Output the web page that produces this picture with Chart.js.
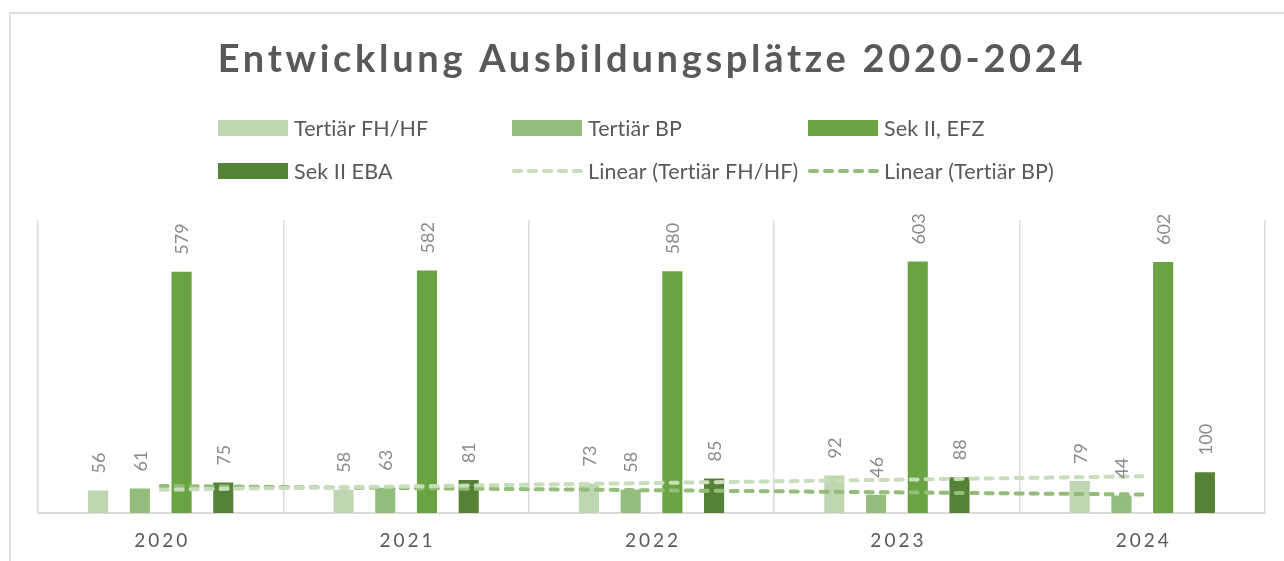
<!DOCTYPE html>
<html>
<head>
<meta charset="utf-8">
<script src="https://cdn.jsdelivr.net/npm/chart.js@4.4.3/dist/chart.umd.min.js"></script>
<style>
  html, body { margin: 0; padding: 0; background: #fff; }
  #wrap { position: relative; width: 1284px; height: 561px; }
</style>
</head>
<body>
<div id="wrap"><canvas id="chart" width="1284" height="561"></canvas></div>
<script>
(function () {
  'use strict';

  var TITLE = 'Entwicklung Ausbildungsplätze 2020-2024';
  var YEARS = ['2020', '2021', '2022', '2023', '2024'];
  var FH_HF = [56, 58, 73, 92, 79];
  var BP = [61, 63, 58, 46, 44];
  var EFZ = [579, 582, 580, 603, 602];
  var EBA = [75, 81, 85, 88, 100];
  // trend lines (start and end only)
  var TREND_FH_HF = [55.6, null, null, null, 87.6];
  var TREND_BP = [64.6, null, null, null, 44.2];

  var C_FH = '#bfd6b2';
  var C_BP = '#94bc7a';
  var C_EFZ = '#6aa342';
  var C_EBA = '#558236';
  var C_TFH = '#c8ddbc';
  var C_TBP = '#94bc7a';
  var TEXT = '#595959';
  var FONT = 'Lato, "Open Sans", sans-serif';

  function bar(label, data, color) {
    return {
      type: 'bar', label: label, data: data, order: 1,
      backgroundColor: color, borderColor: 'rgba(255,255,255,0.6)', borderWidth: 1,
      categoryPercentage: 0.68, barPercentage: 0.53, showValue: true
    };
  }
  function trend(label, data, color) {
    return {
      type: 'line', label: label, data: data, order: 0, spanGaps: true,
      borderColor: color, borderWidth: 4, borderDash: [7, 8], borderCapStyle: 'round',
      pointRadius: 0, fill: false, tension: 0
    };
  }

  var decor = {
    id: 'decor',
    beforeDraw: function (chart) {
      var ctx = chart.ctx;
      ctx.save();
      ctx.strokeStyle = '#dedede';
      ctx.lineWidth = 2;
      ctx.strokeRect(10, 13, 1300, 600);
      ctx.restore();
    },
    afterDatasetsDraw: function (chart) {
      var ctx = chart.ctx;
      var area = chart.chartArea;

      // value labels, rotated
      ctx.save();
      ctx.fillStyle = '#8a8a8a';
      ctx.font = '18px ' + FONT;
      ctx.textAlign = 'left';
      ctx.textBaseline = 'middle';
      chart.data.datasets.forEach(function (ds, i) {
        if (!ds.showValue) return;
        chart.getDatasetMeta(i).data.forEach(function (el, j) {
          ctx.save();
          ctx.translate(el.x, el.y - 16);
          ctx.rotate(-Math.PI / 2);
          ctx.fillText(String(ds.data[j]), 0, 1);
          ctx.restore();
        });
      });
      ctx.restore();

      // category labels
      var xs = chart.scales.x;
      ctx.save();
      ctx.fillStyle = TEXT;
      ctx.font = '19px ' + FONT;
      ctx.letterSpacing = '3px';
      ctx.textAlign = 'center';
      ctx.textBaseline = 'middle';
      chart.data.labels.forEach(function (lab, j) {
        ctx.fillText(lab, xs.getPixelForValue(j) + 1.5, area.bottom + 28);
      });
      ctx.restore();

      // title
      ctx.save();
      ctx.fillStyle = TEXT;
      ctx.font = 'bold 38px ' + FONT;
      ctx.letterSpacing = '3.7px';
      ctx.textAlign = 'center';
      ctx.textBaseline = 'middle';
      ctx.fillText(TITLE, 652, 60);
      ctx.restore();

      // legend, 3 columns x 2 rows
      var colX = [218, 512, 808];
      var rowY = [128, 171];
      ctx.save();
      ctx.font = '21.5px ' + FONT;
      ctx.letterSpacing = '0.1px';
      ctx.textAlign = 'left';
      ctx.textBaseline = 'middle';
      chart.data.datasets.forEach(function (ds, i) {
        var x = colX[i % 3], y = rowY[Math.floor(i / 3)];
        if (ds.type === 'bar') {
          ctx.fillStyle = ds.backgroundColor;
          ctx.fillRect(x, y - 8, 70, 16);
        } else {
          ctx.save();
          ctx.strokeStyle = ds.borderColor;
          ctx.lineWidth = 4;
          ctx.lineCap = 'round';
          ctx.setLineDash([7, 8]);
          ctx.beginPath();
          ctx.moveTo(x + 2, y);
          ctx.lineTo(x + 70, y);
          ctx.stroke();
          ctx.restore();
        }
        ctx.fillStyle = TEXT;
        ctx.fillText(ds.label, x + 76, y + 1);
      });
      ctx.restore();
    }
  };

  new Chart(document.getElementById('chart'), {
    data: {
      labels: YEARS,
      datasets: [
        bar('Tertiär FH/HF', FH_HF, C_FH),
        bar('Tertiär BP', BP, C_BP),
        bar('Sek II, EFZ', EFZ, C_EFZ),
        bar('Sek II EBA', EBA, C_EBA),
        trend('Linear (Tertiär FH/HF)', TREND_FH_HF, C_TFH),
        trend('Linear (Tertiär BP)', TREND_BP, C_TBP)
      ]
    },
    options: {
      responsive: false,
      animation: false,
      devicePixelRatio: 1,
      layout: { padding: { left: 38, right: 19, top: 220, bottom: 48 } },
      plugins: { legend: { display: false }, title: { display: false }, tooltip: { enabled: false } },
      scales: {
        x: {
          offset: true,
          grid: { offset: true, color: '#d9d9d9', lineWidth: 1.5, drawTicks: false },
          border: { display: true, color: '#d9d9d9', width: 2 },
          ticks: { display: false }
        },
        y: { display: false, min: 0, max: 700 }
      }
    },
    plugins: [decor]
  });
})();
</script>
</body>
</html>
